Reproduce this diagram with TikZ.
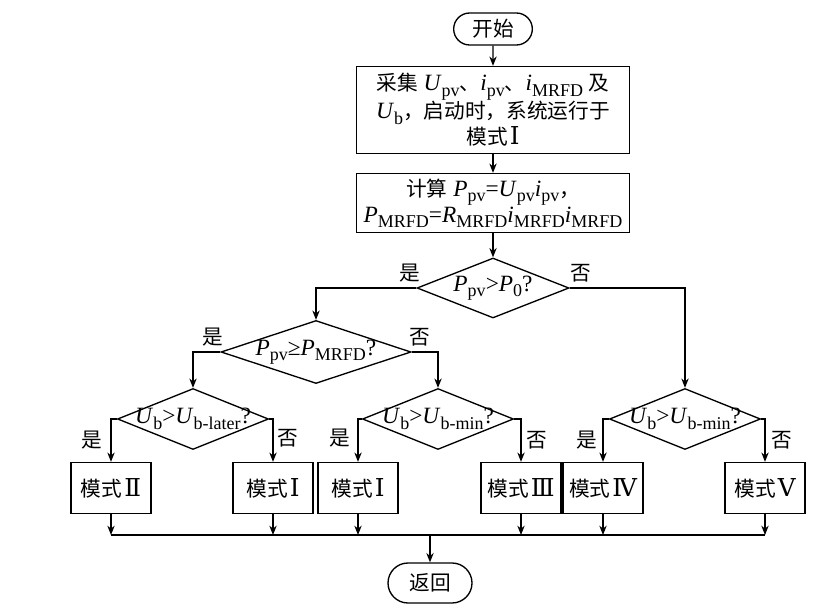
\documentclass[tikz,border=0pt]{standalone}
\usepackage{fontspec}
\setmainfont{Liberation Serif}
\newfontfamily\cjk{Noto Sans CJK SC}
\newfontfamily\romfont{DejaVu Serif}
\usetikzlibrary{shapes.geometric, shapes.misc, arrows.meta, positioning}
\newcommand{\zh}[1]{{\cjk\fontsize{15.5}{19.5}\selectfont #1}}
\newcommand{\rom}[1]{\hspace{1.5pt}{\romfont\fontsize{18.5}{19.5}\selectfont #1}}
\newcommand{\vs}[2]{\textit{#1}\raisebox{-0.5ex}{\fontsize{13.5}{14}\selectfont #2}}
\tikzset{
  % Box styles
  termbox/.style={rounded rectangle, draw, line width=1pt, minimum width=59pt, minimum height=24pt, inner sep=0pt, font=\fontsize{17.5}{19.5}\selectfont},
  stepbox/.style={rectangle, draw, line width=1pt, minimum width=204.75pt, align=center, inner sep=0pt, font=\fontsize{17.5}{19.5}\selectfont},
  modebox/.style={rectangle, draw, line width=1pt, minimum width=60pt, minimum height=38.25pt, inner sep=0pt, font=\fontsize{17.5}{19.5}\selectfont},
  decision/.style={diamond, draw, line width=1pt, inner sep=0pt, minimum width=113.25pt, minimum height=45.75pt, font=\fontsize{17.5}{19.5}\selectfont},
  answer/.style={inner sep=0pt, font=\fontsize{15.5}{18}\selectfont\cjk},
  % Arrow styles
  arrow/.style={->, >={Stealth[length=7pt,width=5.5pt]}, line width=1pt},
  joinline/.style={line width=1pt}
}

\begin{document}
\begin{tikzpicture}[x=0.75pt, y=-0.75pt]
  \useasboundingbox (0,0) rectangle (834,609);

  % Start and input
  \node[termbox] (start) at (493,29) {\zh{开始}};
  \node[stepbox, minimum height=65.25pt] (collect) at (493,110)
    {\zh{采集} \vs{U}{pv}\zh{、}\vs{i}{pv}\zh{、}\vs{i}{MRFD} \zh{及}\\
     \vs{U}{b}\zh{，启动时，系统运行于}\\
     \zh{模式}\rom{Ⅰ}};
  \node[stepbox, minimum height=44.25pt] (calc) at (493,203)
    {\zh{计算} \vs{P}{pv}=\vs{U}{pv}\vs{i}{pv}\zh{，}\\
     \vs{P}{MRFD}=\vs{R}{MRFD}\vs{i}{MRFD}\vs{i}{MRFD}};

  % Decisions
  \node[decision, minimum width=114pt, minimum height=45pt] (pzero) at (493,288)
    {\makebox[0pt]{\vs{P}{pv}>\vs{P}{0}?}};
  \node[decision, minimum width=142.5pt, minimum height=47.25pt] (pmrfd) at (316,352)
    {\makebox[0pt]{\vs{P}{pv}≥\vs{P}{MRFD}?}};
  \node[decision] (ublater) at (193,419) {\makebox[0pt]{\vs{U}{b}>\vs{U}{b-later}?}};
  \node[decision] (ubmin) at (438,419) {\makebox[0pt]{\vs{U}{b}>\vs{U}{b-min}?}};
  \node[decision] (ubminr) at (685,419) {\makebox[0pt]{\vs{U}{b}>\vs{U}{b-min}?}};

  % Modes
  \node[modebox] (mode2) at (111,488) {\zh{模式}\rom{Ⅱ}};
  \node[modebox] (mode1a) at (273,488) {\zh{模式}\rom{Ⅰ}};
  \node[modebox] (mode1b) at (358,488) {\zh{模式}\rom{Ⅰ}};
  \node[modebox] (mode3) at (521,488) {\zh{模式}\rom{Ⅲ}};
  \node[modebox] (mode4) at (603,488) {\zh{模式}\rom{Ⅳ}};
  \node[modebox] (mode5) at (765,488) {\zh{模式}\rom{Ⅴ}};

  % Return
  \coordinate (join) at (430,535);
  \node[termbox, minimum width=63pt, minimum height=30pt] (return) at (430,583) {\zh{返回}};

  % Connectors
  \draw[arrow] (start) -- (collect);
  \draw[arrow] (collect) -- (calc);
  \draw[arrow] (calc) -- (pzero);
  \draw[arrow] (pzero.west) -| (pmrfd.north);
  \draw[arrow] (pzero.east) -| (ubminr.north);
  \draw[arrow] (pmrfd.west) -| (ublater.north);
  \draw[arrow] (pmrfd.east) -| (ubmin.north);
  \draw[arrow] (ublater.west) -| (mode2.north);
  \draw[arrow] (ublater.east) -| (mode1a.north);
  \draw[arrow] (ubmin.west) -| (mode1b.north);
  \draw[arrow] (ubmin.east) -| (mode3.north);
  \draw[arrow] (ubminr.west) -| (mode4.north);
  \draw[arrow] (ubminr.east) -| (mode5.north);
  \foreach \m in {mode2,mode1a,mode1b,mode3,mode4,mode5}
    \draw[arrow] (\m.south) -- (\m.south |- join);
  \draw[joinline] (mode2.south |- join) -- (mode5.south |- join);
  \draw[arrow] (join) -- (return);

  % Yes / no
  \node[answer] (yes1) at (410,273) {是};
  \node[answer] (no1) at (581,273) {否};
  \node[answer] (yes2) at (213,337) {是};
  \node[answer] (no2) at (420,337) {否};
  \node[answer] (yes3) at (92,440) {是};
  \node[answer] (no3) at (288,438) {否};
  \node[answer] (yes4) at (340,438) {是};
  \node[answer] (no4) at (537,440) {否};
  \node[answer] (yes5) at (587,440) {是};
  \node[answer] (no5) at (782,440) {否};
\end{tikzpicture}
\end{document}
